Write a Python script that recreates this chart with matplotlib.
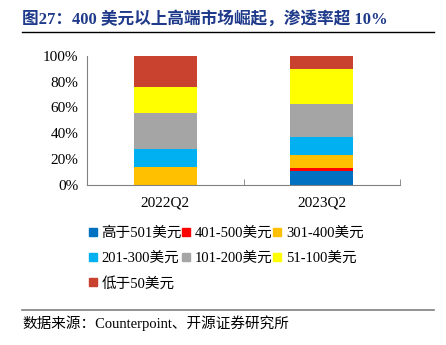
import numpy as np
import matplotlib.pyplot as plt
from matplotlib.lines import Line2D

plt.rcParams['font.family'] = ['Liberation Serif', 'Noto Sans CJK SC']

quarters = ['2022Q2', '2023Q2']
segments = ['高于501美元', '401-500美元', '301-400美元', '201-300美元',
            '101-200美元', '51-100美元', '低于50美元']
shares = {
    '高于501美元': [0, 11],
    '401-500美元': [0, 2],
    '301-400美元': [14, 10],
    '201-300美元': [14, 14],
    '101-200美元': [28, 26],
    '51-100美元': [20, 27],
    '低于50美元': [24, 10],
}
colors = ['#0070C0', '#FF0000', '#FFC000', '#00B0F0', '#A5A5A5', '#FFFF00', '#C9412F']

fig = plt.figure(figsize=(4.46, 3.45), dpi=100)
ax = fig.add_axes([0.195, 0.4638, 0.702, 0.3748])

x = np.arange(len(quarters))
bottom = np.zeros(len(quarters))
for seg, c in zip(segments, colors):
    vals = np.array(shares[seg], dtype=float)
    ax.bar(x, vals, width=0.4, bottom=bottom, color=c, linewidth=0)
    bottom += vals

ax.set_xlim(-0.5, 1.5)
ax.set_ylim(0, 100)
ax.set_yticks(np.arange(0, 101, 20))
ax.set_yticklabels(['%d%%' % v for v in range(0, 101, 20)], fontsize=11)
ax.set_xticks(x)
ax.set_xticklabels(quarters, fontsize=11)
ax.tick_params(axis='y', length=0, pad=6)
ax.tick_params(axis='x', length=0, pad=8)
ax.set_xticks([0.5, 1.5], minor=True)
ax.tick_params(axis='x', which='minor', direction='in', length=4, color='#808080')
for s in ['top', 'right']:
    ax.spines[s].set_visible(False)
for s in ['left', 'bottom']:
    ax.spines[s].set_color('#808080')

# legend, row by row (matplotlib fills columns first)
order = [0, 3, 6, 1, 4, 2, 5]
handles = [Line2D([], [], marker='s', linestyle='', color=colors[i], markersize=6) for i in order]
labels = [segments[i] for i in order]
fig.legend(handles, labels, ncol=3, loc='upper left', bbox_to_anchor=(0.185, 0.36),
           frameon=False, fontsize=10.5, handlelength=0.6, handletextpad=0.3,
           columnspacing=0.0, labelspacing=0.8, borderaxespad=0)

# title and source
fig.text(0.05, 0.945, '图27：400 美元以上高端市场崛起，渗透率超 10%', fontsize=12,
         fontweight='bold', color='#1F3A8A', va='center')
fig.add_artist(Line2D([0.05, 0.973], [0.907, 0.907], color='black', lw=1))
fig.add_artist(Line2D([0.05, 0.973], [0.101, 0.101], color='#808080', lw=1.2))
fig.text(0.05, 0.063, '数据来源：Counterpoint、开源证券研究所', fontsize=10.5, va='center')

fig.savefig('out.png', dpi=100)
